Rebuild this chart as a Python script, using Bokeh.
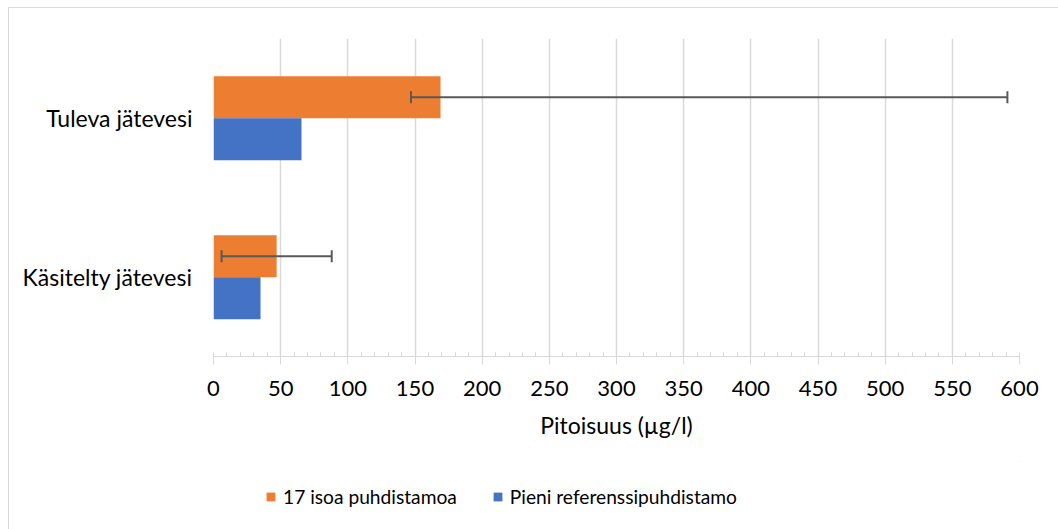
from bokeh.plotting import figure
from bokeh.models import (ColumnDataSource, Range1d, FactorRange, SingleIntervalTicker,
                          Legend, LegendItem, Whisker, TeeHead)
from bokeh.layouts import column
from bokeh.transform import dodge
from bokeh.embed import file_html
from bokeh.resources import INLINE

categories = ["Käsitelty jätevesi", "Tuleva jätevesi"]
series_names = ["17 isoa puhdistamoa", "Pieni referenssipuhdistamo"]
large_plants = [47, 169]
small_plant = [35, 65.5]
err_low = [6, 147]
err_high = [88, 591]
x_ticks_interval = 50

ORANGE = "#ED7D31"
BLUE = "#4472C4"
GRID = "#D9D9D9"
FONT = "Lato"

src = ColumnDataSource(dict(cat=categories, large=large_plants, small=small_plant,
                            lo=err_low, hi=err_high))

p = figure(width=1050, height=453, output_backend="svg", toolbar_location=None,
           x_range=Range1d(0, 600), y_range=FactorRange(*categories, range_padding=0),
           min_border_left=204, min_border_right=40, min_border_top=30, min_border_bottom=105)
p.outline_line_color = None

r_large = p.hbar(y=dodge("cat", 0.13, range=p.y_range), right="large", left=0, height=0.264,
                 source=src, fill_color=ORANGE, line_color=None)
r_small = p.hbar(y=dodge("cat", -0.134, range=p.y_range), right="small", left=0, height=0.264,
                 source=src, fill_color=BLUE, line_color=None)

wh = Whisker(base=dodge("cat", 0.13, range=p.y_range), lower="lo", upper="hi", source=src,
             dimension="width", line_color="#595959", line_width=2, level="annotation",
             lower_head=TeeHead(size=12, line_color="#595959", line_width=2),
             upper_head=TeeHead(size=12, line_color="#595959", line_width=2))
p.add_layout(wh)

# x axis
xa = p.xaxis[0]
xa.ticker = SingleIntervalTicker(interval=x_ticks_interval, num_minor_ticks=5)
xa.axis_line_color = GRID
xa.major_tick_line_color = GRID
xa.minor_tick_line_color = GRID
xa.major_tick_in = 0
xa.major_tick_out = 8
xa.minor_tick_in = 4
xa.minor_tick_out = 0
xa.major_label_text_font = FONT
xa.major_label_text_font_size = "22px"
xa.major_label_text_color = "#000000"
xa.major_label_standoff = 16
xa.axis_label = "Pitoisuus (µg/l)"
xa.axis_label_text_font = FONT
xa.axis_label_text_font_size = "23px"
xa.axis_label_text_font_style = "normal"
xa.axis_label_text_color = "#000000"
xa.axis_label_standoff = 12

# y axis
ya = p.yaxis[0]
ya.axis_line_color = None
ya.major_tick_line_color = None
ya.minor_tick_line_color = None
ya.major_tick_out = 0
ya.major_tick_in = 0
ya.major_label_standoff = 21
ya.major_label_text_font = FONT
ya.major_label_text_font_size = "23px"
ya.major_label_text_color = "#000000"

p.xgrid.grid_line_color = GRID
p.xgrid.grid_line_width = 1.5
p.ygrid.grid_line_color = None

# legend strip below the chart (frame aligned with the chart's frame by the column)
q = figure(width=1050, height=69, output_backend="svg", toolbar_location=None,
           x_range=Range1d(0, 1), y_range=Range1d(0, 1),
           min_border_left=0, min_border_right=0, min_border_top=0, min_border_bottom=0)
q.axis.visible = False
q.grid.visible = False
q.outline_line_color = None
offview = ColumnDataSource(dict(y=[5], right=[5]))
d_large = q.hbar(y="y", right="right", left=4, height=0.1, source=offview,
                 fill_color=ORANGE, line_color=None)
d_small = q.hbar(y="y", right="right", left=4, height=0.1, source=offview,
                 fill_color=BLUE, line_color=None)

legend = Legend(items=[LegendItem(label=series_names[0], renderers=[d_large]),
                       LegendItem(label=series_names[1], renderers=[d_small])],
                orientation="horizontal", location=(52, 22),
                glyph_width=11, glyph_height=11, label_standoff=7, spacing=35,
                padding=0, margin=0, border_line_color=None, background_fill_alpha=0,
                label_text_font=FONT, label_text_font_size="19.2px", label_text_color="#000000")
q.add_layout(legend)

layout = column(p, q, spacing=0)
layout.styles = {"margin-left": "8px", "margin-top": "7px",
                 "border-top": "1px solid #D9D9D9", "border-left": "1px solid #D9D9D9"}

open("out.html", "w").write(file_html(layout, INLINE))
